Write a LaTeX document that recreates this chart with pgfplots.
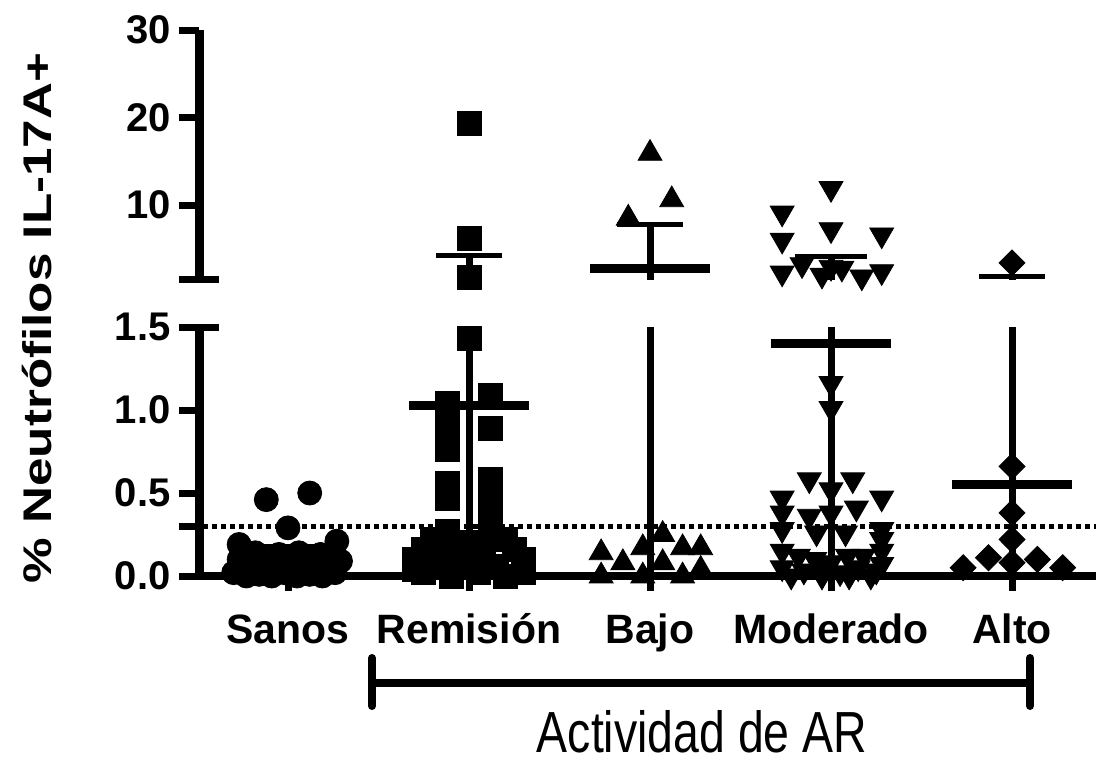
\documentclass[border=0pt]{standalone}
\usepackage{pgfplots}
\pgfplotsset{compat=1.18}
\usepackage{fontspec}
\setmainfont{Liberation Sans}
\usepackage{graphicx}
\newcommand{\lab}{\fontsize{20}{24}\selectfont\bfseries}
\newcommand{\cat}{\fontsize{20.5}{24}\selectfont\bfseries}

% ---------- data: lower panel (0 - 1.5) ----------
\pgfplotstableread{
x y
-0.12 0.46
0.12 0.50
0.00 0.29
-0.27 0.19
0.27 0.21
-0.27 0.10
-0.20 0.05
-0.13 0.09
-0.06 0.04
0.01 0.08
0.08 0.03
0.15 0.07
0.22 0.05
0.29 0.09
-0.30 0.02
-0.23 0.00
-0.16 0.01
-0.09 0.00
-0.02 0.02
0.05 0.00
0.12 0.01
0.19 0.00
0.26 0.02
-0.05 0.13
0.06 0.14
-0.18 0.14
0.18 0.13
}\sanos
\pgfplotstableread{
x y
1.00 1.43
0.88 1.04
1.12 1.09
0.88 0.93
0.88 0.85
0.88 0.76
1.12 0.89
0.88 0.56
0.88 0.47
1.12 0.58
1.12 0.48
1.12 0.40
0.88 0.27
1.12 0.27
0.80 0.22
1.00 0.20
1.20 0.22
0.75 0.16
0.92 0.15
1.08 0.17
1.25 0.16
0.70 0.10
0.85 0.08
1.00 0.10
1.15 0.06
1.30 0.10
0.75 0.02
0.90 0.00
1.05 0.02
1.20 0.00
1.30 0.02
0.70 0.04
}\remlow
\pgfplotstableread{
x y
1.73 0.14
1.85 0.08
1.96 0.17
2.07 0.25
2.18 0.17
2.28 0.17
1.73 0.00
1.96 0.00
2.07 0.08
2.18 0.00
2.28 0.04
}\bajolow
\pgfplotstableread{
x y
2.73 0.47
2.88 0.58
3.12 0.58
3.28 0.47
3.00 0.52
3.00 1.16
3.00 1.01
2.73 0.38
2.88 0.36
3.00 0.38
3.14 0.41
2.73 0.28
2.92 0.26
3.08 0.26
3.28 0.28
3.28 0.22
2.73 0.15
2.82 0.12
2.91 0.10
3.00 0.08
3.09 0.12
3.18 0.12
3.28 0.15
2.73 0.05
2.85 0.03
2.95 0.05
3.05 0.02
3.15 0.05
3.25 0.03
2.78 0.00
2.95 0.00
3.10 0.00
3.22 0.00
3.28 0.07
}\modlow
\pgfplotstableread{
x y
4.00 0.66
4.00 0.38
4.00 0.22
4.00 0.08
3.87 0.11
4.14 0.10
3.73 0.05
4.28 0.05
}\altolow
% ---------- data: upper panel (1.5 - 30) ----------
\pgfplotstableread{
x y
1.00 19.35
1.00 6.20
1.00 1.70
}\remup
\pgfplotstableread{
x y
2.00 15.9
2.12 10.6
1.88 8.5
}\bajoup
\pgfplotstableread{
x y
2.73 9.1
2.73 6.0
3.00 11.9
3.00 7.2
3.28 6.6
2.73 2.25
2.84 3.2
2.95 2.0
3.06 2.8
3.17 1.8
3.28 2.4
3.00 2.9
}\modup
\pgfplotstableread{
x y
4.00 3.4
}\altoup

\begin{document}
\begin{tikzpicture}
\path[use as bounding box] (0,0) rectangle (548pt,-382.5pt);
\pgfplotsset{
  brk/.style={
    scale only axis, width=448.5pt, clip=false,
    xmin=-0.4917, xmax=4.464,
    axis line style={line width=4.5pt},
    major tick length=10pt,
    tick align=outside,
    ytick style={line width=3.5pt, black},
    yticklabel style={font=\lab, inner sep=1pt, xshift=-3pt},
    /pgf/number format/assume math mode=true,
    anchor=south west,
  },
  mk/.style={only marks, black, mark size=6pt},
  meanl/.style={black, line width=4.5pt, no marks},
  capl/.style={black, line width=2.5pt, no marks},
  vl/.style={black, line width=3.5pt, no marks},
}
% lower panel
\begin{axis}[brk, at={(99.5pt,-288pt)}, height=124.5pt, ymin=0, ymax=1.5,
  axis x line*=bottom, axis y line*=left,
  x axis line style={line width=4pt},
  xtick={0,1,2,3,4}, xticklabels={Sanos,Remisión,Bajo,Moderado,Alto},
  xtick style={draw=none},
  xticklabel style={font=\cat, anchor=base, yshift=-23.5pt},
  ytick={0,0.3,0.5,1,1.5}, yticklabels={0.0,,0.5,1.0,1.5},
  extra y ticks={1.5}, extra y tick labels={},
  extra y tick style={tick align=inside},
]
\addplot[black, line width=2.5pt, dash pattern=on 2.5pt off 2pt] coordinates {(-0.47,0.3) (4.464,0.3)};
\addplot[mk, mark=*] table {\sanos};
\addplot[mk, mark=square*] table {\remlow};
\addplot[mk, mark=triangle*, mark size=6.9pt] table {\bajolow};
\addplot[mk, mark=triangle*, mark size=6.9pt, mark options={rotate=180}] table {\modlow};
\addplot[mk, mark=diamond*, mark size=6.5pt, mark options={xscale=1.33}] table {\altolow};
% mean and SD
\addplot[meanl] coordinates {(-0.33,0.08) (0.33,0.08)};
\addplot[capl] coordinates {(-0.18,0.18) (0.18,0.18)};
\addplot[vl] coordinates {(0,-0.09) (0,0.18)};
\addplot[meanl] coordinates {(0.67,1.03) (1.33,1.03)};
\addplot[vl] coordinates {(1,-0.09) (1,1.5)};
\addplot[vl] coordinates {(2,-0.09) (2,1.5)};
\addplot[meanl] coordinates {(2.67,1.40) (3.33,1.40)};
\addplot[vl] coordinates {(3,-0.09) (3,1.5)};
\addplot[meanl] coordinates {(3.67,0.55) (4.33,0.55)};
\addplot[vl] coordinates {(4,-0.09) (4,1.5)};
\end{axis}
% upper panel
\begin{axis}[brk, at={(99.5pt,-139.75pt)}, height=124.75pt, ymin=1.5, ymax=30,
  axis x line=none, axis y line*=left,
  ytick={1.5,10,20,30}, yticklabels={,10,20,30},
  extra y ticks={1.5}, extra y tick labels={},
  extra y tick style={tick align=inside},
]
\addplot[mk, mark=square*] table {\remup};
\addplot[mk, mark=triangle*, mark size=6.9pt] table {\bajoup};
\addplot[mk, mark=triangle*, mark size=6.9pt, mark options={rotate=180}] table {\modup};
\addplot[mk, mark=diamond*, mark size=6.5pt, mark options={xscale=1.33}] table {\altoup};
\addplot[vl] coordinates {(1,1.5) (1,4.2)};
\addplot[capl] coordinates {(0.82,4.2) (1.18,4.2)};
\addplot[meanl] coordinates {(1.67,2.7) (2.33,2.7)};
\addplot[vl] coordinates {(2,1.5) (2,7.8)};
\addplot[capl] coordinates {(1.82,7.8) (2.18,7.8)};
\addplot[vl] coordinates {(3,1.5) (3,4.1)};
\addplot[capl] coordinates {(2.8,4.1) (3.2,4.1)};
\addplot[vl] coordinates {(4,1.5) (4,1.8)};
\addplot[capl] coordinates {(3.82,1.8) (4.18,1.8)};
\end{axis}
% y label
\node[rotate=90, font=\lab] at (18.5pt,-159pt) {\scalebox{1.28}[1]{\% Neutrófilos IL-17A+}};
% bracket
\draw[line width=4pt, line cap=round] (186pt,-341.5pt) -- (515pt,-341.5pt);
\draw[line width=4pt, line cap=round] (186pt,-329pt) -- (186pt,-353pt);
\draw[line width=4pt, line cap=round] (515pt,-329pt) -- (515pt,-353pt);
\node[anchor=base, font=\fontsize{29}{32}\selectfont] at (351pt,-376pt) {\scalebox{0.8}[1]{Actividad de AR}};
\end{tikzpicture}
\end{document}
